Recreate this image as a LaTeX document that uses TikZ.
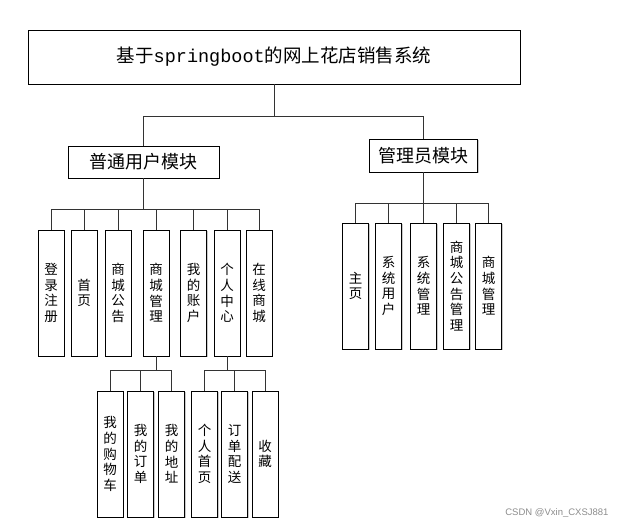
\documentclass[tikz,border=0pt]{standalone}
\usepackage{fontspec}
\setmainfont{Noto Sans CJK SC}
\newfontfamily\latinmono{Liberation Mono}
\newfontfamily\markfont{Liberation Sans}
\usetikzlibrary{shadows}

\tikzset{
  box/.style={draw, fill=white, line width=0.9pt, inner sep=0pt, align=center,
    drop shadow={shadow xshift=1.3pt, shadow yshift=-1.3pt, fill=black!35, opacity=0.6}},
  colbox/.style={box, minimum width=26pt, minimum height=126pt,
    font=\fontsize{13.5}{15.6}\selectfont},
  link/.style={line width=0.8pt, black!80},
}

\begin{document}
\begin{tikzpicture}[x=1pt, y=-1pt]
    \useasboundingbox (0,0) rectangle (621,524);

    % Nodes
    \node[box, minimum width=492pt, minimum height=54pt,
      font=\fontsize{18.5}{20}\selectfont] (sys) at (274,57)
      {基于{\latinmono springboot}的网上花店销售系统};
    \node[box, minimum width=151pt, minimum height=32pt,
      font=\fontsize{18}{20}\selectfont] (user) at (143.5,162) {普通用户模块};
    \node[box, minimum width=108pt, minimum height=33pt,
      font=\fontsize{18}{20}\selectfont] (admin) at (423.5,155.5) {管理员模块};

    % user module
    \foreach \name/\x/\txt in {login/51/登\\录\\注\\册, home/84/首\\页,
        notice/118/商\\城\\公\\告, shopmgr/156/商\\城\\管\\理,
        account/193.5/我\\的\\账\\户, center/227/个\\人\\中\\心,
        mall/259/在\\线\\商\\城}
      \node[colbox] (\name) at (\x,293) {\txt};

    % admin module
    \foreach \name/\x/\txt in {ahome/355.5/主\\页, auser/388.5/系\\统\\用\\户,
        asys/423.5/系\\统\\管\\理, anotice/456.5/商\\城\\公\\告\\管\\理,
        amall/488.5/商\\城\\管\\理}
      \node[colbox] (\name) at (\x,286) {\txt};

    % second level
    \foreach \name/\x/\txt in {cart/110/我\\的\\购\\物\\车, order/140.5/我\\的\\订\\单,
        addr/171.5/我\\的\\地\\址, phome/204.5/个\\人\\首\\页,
        deliver/234.5/订\\单\\配\\送, fav/265/收\\藏}
      \node[colbox] (\name) at (\x,454) {\txt};

    \node[font=\markfont\fontsize{9.5}{11}\selectfont, text=black!45, anchor=east]
      (mark) at (612,513) {CSDN @Vxin\_CXSJ881};

    % Edges
    \foreach \n in {user, admin}
      \draw[link] (sys.south) -- (sys.south |- 0,116) -| (\n.north);
    \foreach \n in {login, home, notice, shopmgr, account, center, mall}
      \draw[link] (user.south) -- (user.south |- 0,209) -| (\n.north);
    \foreach \n in {ahome, auser, asys, anotice, amall}
      \draw[link] (admin.south) -- (admin.south |- 0,203) -| (\n.north);
    \foreach \n in {cart, order, addr}
      \draw[link] (shopmgr.south) -- (shopmgr.south |- 0,370) -| (\n.north);
    \foreach \n in {phome, deliver, fav}
      \draw[link] (center.south) -- (center.south |- 0,370) -| (\n.north);
\end{tikzpicture}
\end{document}
